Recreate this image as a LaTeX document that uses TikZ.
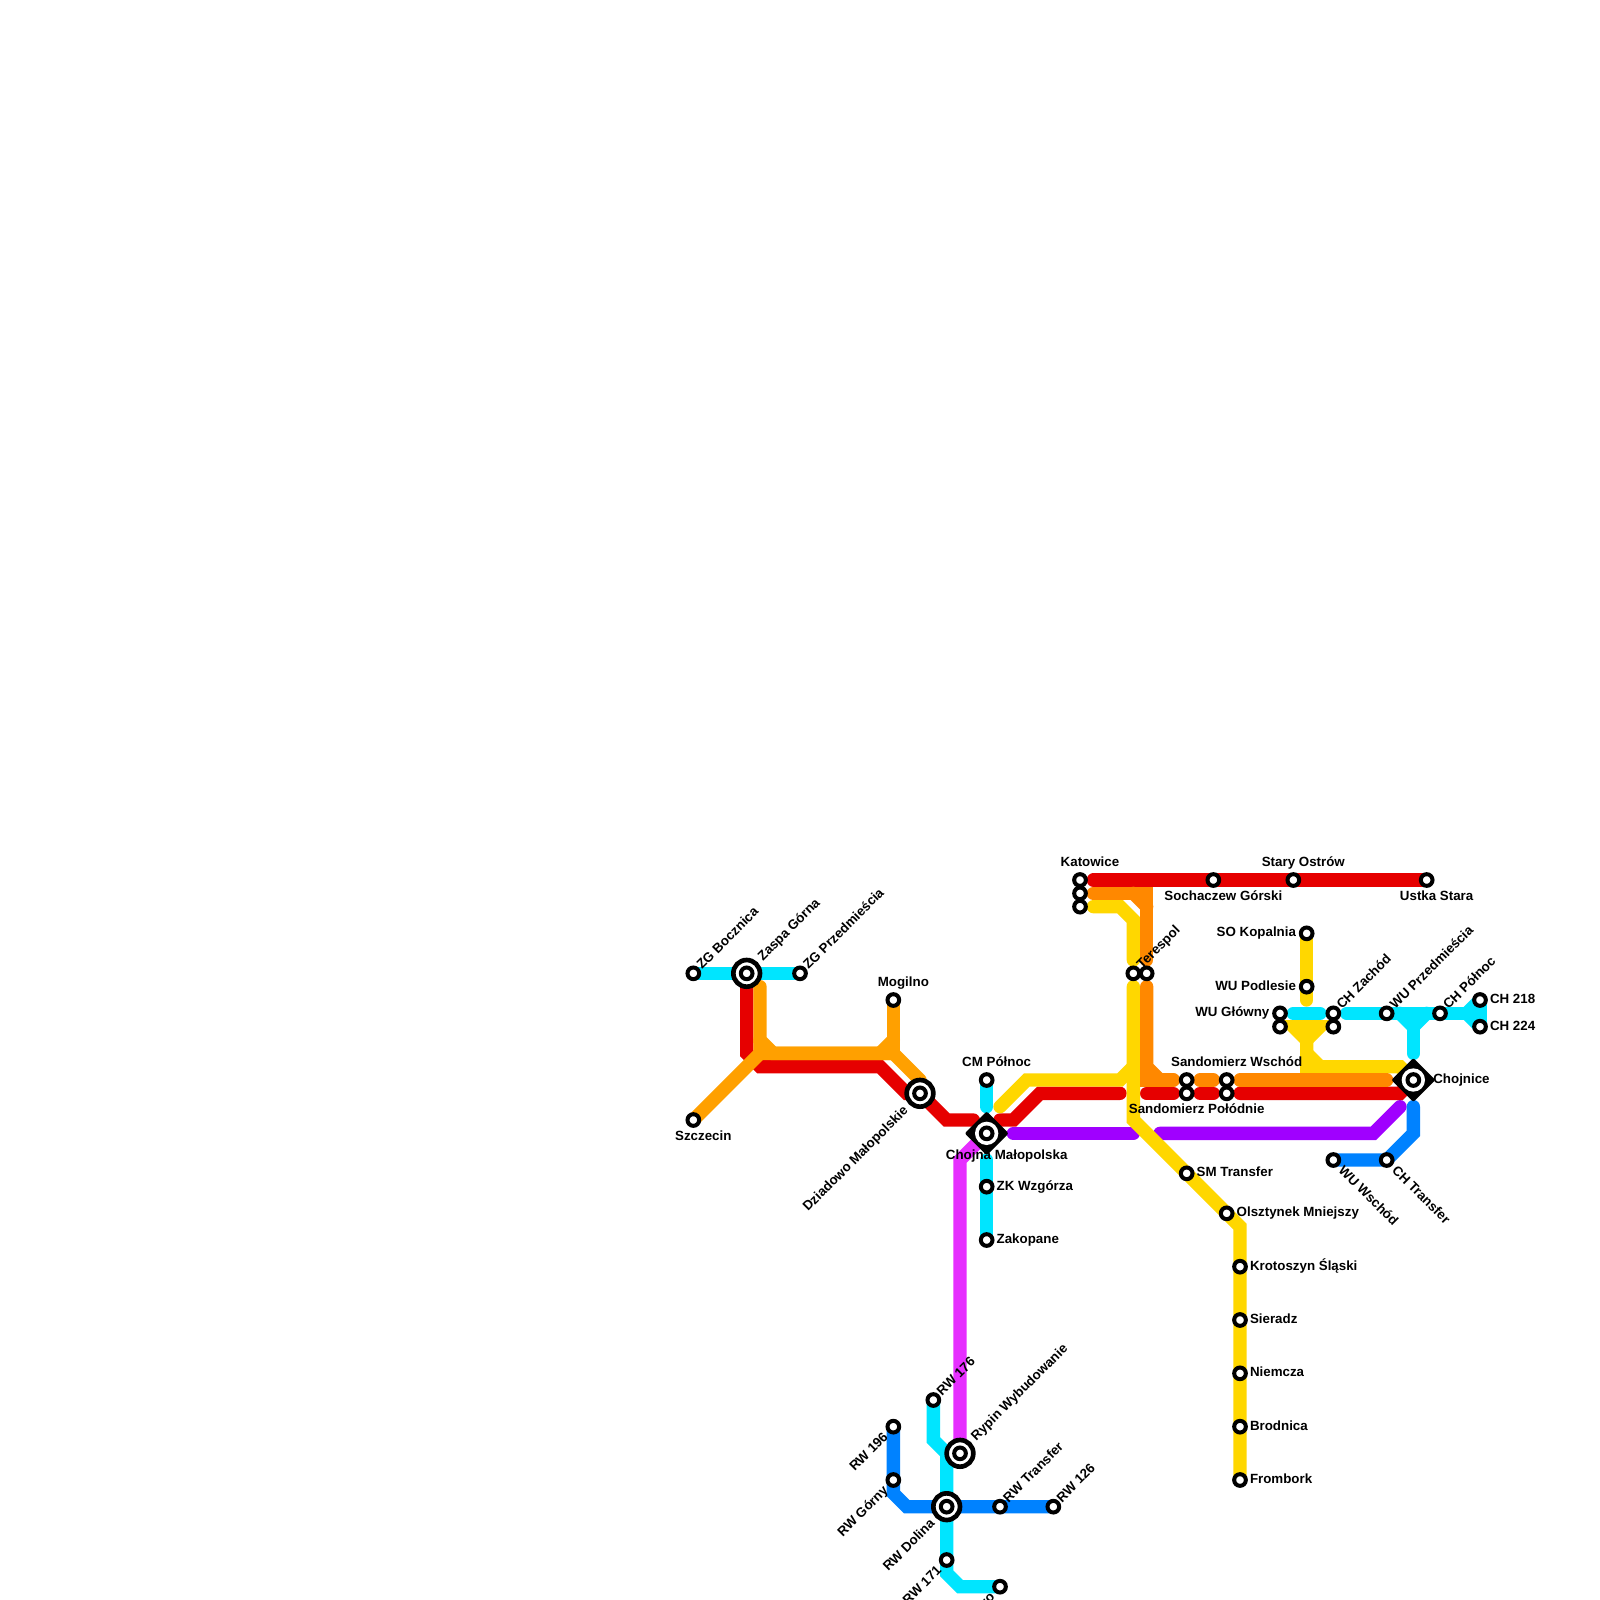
\documentclass[tikz,border=0pt]{standalone}
\usepackage{fontspec}
\setmainfont{Liberation Sans}
\usetikzlibrary{shapes.geometric}
\pgfdeclarelayer{lines}
\pgfsetlayers{lines,main}
\definecolor{mred}{HTML}{E60000}
\definecolor{morange}{HTML}{FFA000}
\definecolor{mdark}{HTML}{FF8800}
\definecolor{myellow}{HTML}{FFD700}
\definecolor{mcyan}{HTML}{00E5FF}
\definecolor{mblue}{HTML}{0082FF}
\definecolor{mpurple}{HTML}{A000FF}
\definecolor{mpink}{HTML}{E62EFF}
\tikzset{
  mline/.style={line width=10bp,line cap=round,line join=miter},
  stn/.style={circle,draw=black,fill=white,line width=3bp,minimum size=8.75bp,inner sep=0pt},
  ringstn/.style={circle,draw=black,fill=white,line width=3.5bp,minimum size=20bp,inner sep=0pt},
  diastn/.style={diamond,aspect=1,draw=black,fill=black,line width=3bp,line join=round,minimum width=30bp,minimum height=30bp,inner sep=0pt},
  halo/.style={circle,fill=white,minimum size=17.5bp,inner sep=0pt},
  lbl/.style={inner sep=0pt,outer sep=0pt,text height=7.2bp,text depth=0pt,font=\fontsize{10bp}{12bp}\selectfont\bfseries},
  lE/.style={lbl,xshift=7.5bp,yshift=1bp,anchor=west},
  lW/.style={lbl,xshift=-8bp,yshift=1bp,anchor=east},
  lT/.style={lbl,xshift=7.5bp,yshift=13.5bp,anchor=center},
  lB/.style={lbl,xshift=7.5bp,yshift=-11.8bp,anchor=center},
  lNE/.style={lbl,xshift=4bp,yshift=5.2bp,rotate=45,anchor=west},
  lNEx/.style={lbl,xshift=9.7bp,yshift=11.5bp,rotate=45,anchor=west},
  lSE/.style={lbl,xshift=6bp,yshift=-6bp,rotate=-45,anchor=west},
  lSW/.style={lbl,xshift=-6bp,yshift=-6bp,rotate=45,anchor=east},
  lSWx/.style={lbl,xshift=-11bp,yshift=-11bp,rotate=45,anchor=east}
}
\begin{document}
\begin{tikzpicture}[x=10bp,y=-10bp]
\useasboundingbox (0,0) rectangle (120,120);
\begin{pgfonlayer}{lines}
\fill[white] (0,0) rectangle (120,120);
\end{pgfonlayer}
% bends and free ends
\foreach \x/\y in {56/79,57/80,66/80,68/82,71/84,73/84,75/84,76/84,78/82,84/82,86/82,88/82,90/82,91/82,93/82,105/82,
  82/66,82/67,85/67,86/68,86/67,86/72,86/74,86/80,86/81,87/81,88/81,90/81,91/81,93/81,104/81,
  57/74,57/78,57/79,58/79,66/79,67/78,67/79,69/81,
  82/68,84/68,85/69,85/72,85/74,85/84,93/92,85/80,84/81,77/81,75/83,98/75,97/77,99/77,98/78,98/79,99/80,98/80,105/80,
  97/76,99/76,101/76,105/76,106/77,107/76,106/79,110/76,74/83,74/87,70/108,71/109,71/118,72/119,
  76/85,85/85,87/85,103/85,105/83,72/87,106/83,106/85,67/112,68/113}
  \coordinate (g\x-\y) at (\x,\y);
% ring stations
\foreach \n/\x/\y in {zaspa/56/73,dziadowo/69/82,rypin/72/109,rwdolina/71/113}
  \node[ringstn] (\n-ring) at (\x,\y) {};
% diamond stations
\foreach \n/\x/\y in {chojna/74/85,chojnice/106/81}{
  \node[diastn] (\n-dia) at (\x,\y) {};
  \node[halo] (\n-halo) at (\x,\y) {};
}
% stations
\foreach \n/\x/\y in {zgb/52/73,zaspa/56/73,zgp/60/73,mogilno/67/75,szczecin/52/84,dziadowo/69/82,cmp/74/81,chojna/74/85,
  zkw/74/89,zakopane/74/93,kat/81/66,katb/81/67,katc/81/68,socha/91/66,stary/97/66,ustka/107/66,
  tera/85/73,terb/86/73,sokop/98/70,wupod/98/74,wugl/96/76,wuglb/96/77,chz/100/76,chzb/100/77,
  wup/104/76,chp/108/76,chpa/111/75,chpb/111/77,chojnice/106/81,
  sanda/89/81,sandb/89/82,sandc/92/81,sandd/92/82,smt/89/88,olsz/92/91,krot/93/95,sier/93/99,niem/93/103,brod/93/107,fromb/93/111,
  wuw/100/87,cht/104/87,rw176/70/105,rypin/72/109,rw196/67/107,rwg/67/111,rwdolina/71/113,rwt/75/113,rw126/79/113,rw171/71/117,rwend/75/119}
  \node[stn] (\n) at (\x,\y) {};
% lines
\begin{pgfonlayer}{lines}
\begin{scope}[mline]
\draw[mcyan] (zgb.center) -- (zaspa.center) -- (zgp.center);
\draw[mcyan] (cmp.center) -- (g74-83);
\draw[mcyan] (g74-87) -- (zkw.center) -- (zakopane.center);
\draw[mcyan] (g97-76) -- (g99-76);
\draw[mcyan] (g101-76) -- (wup.center) -- (chp.center) -- (g110-76);
\draw[mcyan] (g110-76) -- (chpa.center);
\draw[mcyan] (g110-76) -- (chpb.center);
\draw[mcyan] (chpa.center) -- (chpb.center);
\draw[mcyan] (g105-76) -- (g106-77) -- (g107-76);
\draw[mcyan] (g106-77) -- (g106-79);
\draw[mcyan] (rw176.center) -- (g70-108) -- (g71-109) -- (rwdolina.center) -- (rw171.center) -- (g71-118) -- (g72-119) -- (rwend.center);
\draw[mpink] (rypin.center) -- (g72-87) -- (chojna.center);
\draw[mpurple] (g76-85) -- (g85-85);
\draw[mpurple] (g87-85) -- (g103-85) -- (g105-83);
\draw[mblue] (g106-83) -- (g106-85) -- (cht.center) -- (wuw.center);
\draw[mblue] (rw196.center) -- (rwg.center) -- (g67-112) -- (g68-113) -- (rwdolina.center) -- (rwt.center) -- (rw126.center);
\draw[mred] (zaspa.center) -- (g56-79) -- (g57-80) -- (g66-80) -- (g68-82) -- (dziadowo.center) -- (g71-84) -- (g73-84);
\draw[mred] (g75-84) -- (g76-84) -- (g78-82) -- (g84-82);
\draw[mred] (g86-82) -- (g88-82);
\draw[mred] (g90-82) -- (g91-82);
\draw[mred] (g93-82) -- (g105-82) -- (chojnice.center);
\draw[mred] (g82-66) -- (ustka.center);
\draw[myellow] (g82-68) -- (g84-68) -- (g85-69) -- (g85-72);
\draw[myellow] (g85-74) -- (g85-84) -- (smt.center) -- (olsz.center) -- (g93-92) -- (krot.center) -- (sier.center) -- (niem.center) -- (brod.center) -- (fromb.center);
\draw[myellow] (g85-80) -- (g84-81) -- (g77-81) -- (g75-83);
\draw[myellow] (sokop.center) -- (wupod.center) -- (g98-75);
\draw[myellow] (g98-78) -- (g97-77) -- (g99-77) -- (g98-78);
\draw[myellow] (g98-78) -- (g98-80) -- (g105-80) -- (chojnice.center);
\draw[myellow] (g98-79) -- (g99-80);
\draw[mdark] (g82-67) -- (g86-67) -- (g86-72);
\draw[mdark] (g85-67) -- (g86-68);
\draw[mdark] (g86-74) -- (g86-80) -- (g87-81) -- (g88-81);
\draw[mdark] (g86-80) -- (g86-81) -- (g88-81);
\draw[mdark] (g90-81) -- (g91-81);
\draw[mdark] (g93-81) -- (g104-81);
\draw[morange] (g57-74) -- (g57-78) -- (g58-79) -- (g67-79);
\draw[morange] (g57-78) -- (g57-79) -- (szczecin.center);
\draw[morange] (g57-79) -- (g67-79) -- (g69-81);
\draw[morange] (mogilno.center) -- (g67-79);
\draw[morange] (g67-78) -- (g66-79);
\end{scope}
\end{pgfonlayer}
% labels
\node[lNE] (t1) at (zgb) {ZG Bocznica};
\node[lNEx] (t2) at (zaspa) {Zaspa Górna};
\node[lNE] (t3) at (zgp) {ZG Przedmieścia};
\node[lT] (t4) at (mogilno) {Mogilno};
\node[lB] (t5) at (szczecin) {Szczecin};
\node[lSWx] (t6) at (dziadowo) {Dziadowo Małopolskie};
\node[lT] (t7) at (cmp) {CM Północ};
\node[lbl,xshift=15bp,yshift=-16.3bp,anchor=center] (t8) at (chojna) {Chojna Małopolska};
\node[lE] (t9) at (zkw) {ZK Wzgórza};
\node[lE] (t10) at (zakopane) {Zakopane};
\node[lT] (t11) at (kat) {Katowice};
\node[lB] (t12) at (socha) {Sochaczew Górski};
\node[lT] (t13) at (stary) {Stary Ostrów};
\node[lB] (t14) at (ustka) {Ustka Stara};
\node[lNE] (t15) at (tera) {Terespol};
\node[lW] (t16) at (sokop) {SO Kopalnia};
\node[lW] (t17) at (wupod) {WU Podlesie};
\node[lW] (t18) at (wugl) {WU Główny};
\node[lNE] (t19) at (chz) {CH Zachód};
\node[lNE] (t20) at (wup) {WU Przedmieścia};
\node[lNE] (t21) at (chp) {CH Północ};
\node[lE] (t22) at (chpa) {CH 218};
\node[lE] (t23) at (chpb) {CH 224};
\node[lbl,xshift=15bp,yshift=1bp,anchor=west] (t24) at (chojnice) {Chojnice};
\node[lT] (t25) at (sandc) {Sandomierz Wschód};
\node[lB] (t26) at (sandb) {Sandomierz Połódnie};
\node[lE] (t27) at (smt) {SM Transfer};
\node[lE] (t28) at (olsz) {Olsztynek Mniejszy};
\node[lE] (t29) at (krot) {Krotoszyn Śląski};
\node[lE] (t30) at (sier) {Sieradz};
\node[lE] (t31) at (niem) {Niemcza};
\node[lE] (t32) at (brod) {Brodnica};
\node[lE] (t33) at (fromb) {Frombork};
\node[lSE] (t34) at (wuw) {WU Wschód};
\node[lSE] (t35) at (cht) {CH Transfer};
\node[lNE] (t36) at (rw176) {RW 176};
\node[lNEx] (t37) at (rypin) {Rypin Wybudowanie};
\node[lNE] (t38) at (rwt) {RW Transfer};
\node[lNE] (t39) at (rw126) {RW 126};
\node[lSW] (t40) at (rw196) {RW 196};
\node[lSW] (t41) at (rwg) {RW Górny};
\node[lSWx] (t42) at (rwdolina) {RW Dolina};
\node[lSW] (t43) at (rw171) {RW 171};
\node[lSW] (t44) at (rwend) {ro};
\end{tikzpicture}
\end{document}
